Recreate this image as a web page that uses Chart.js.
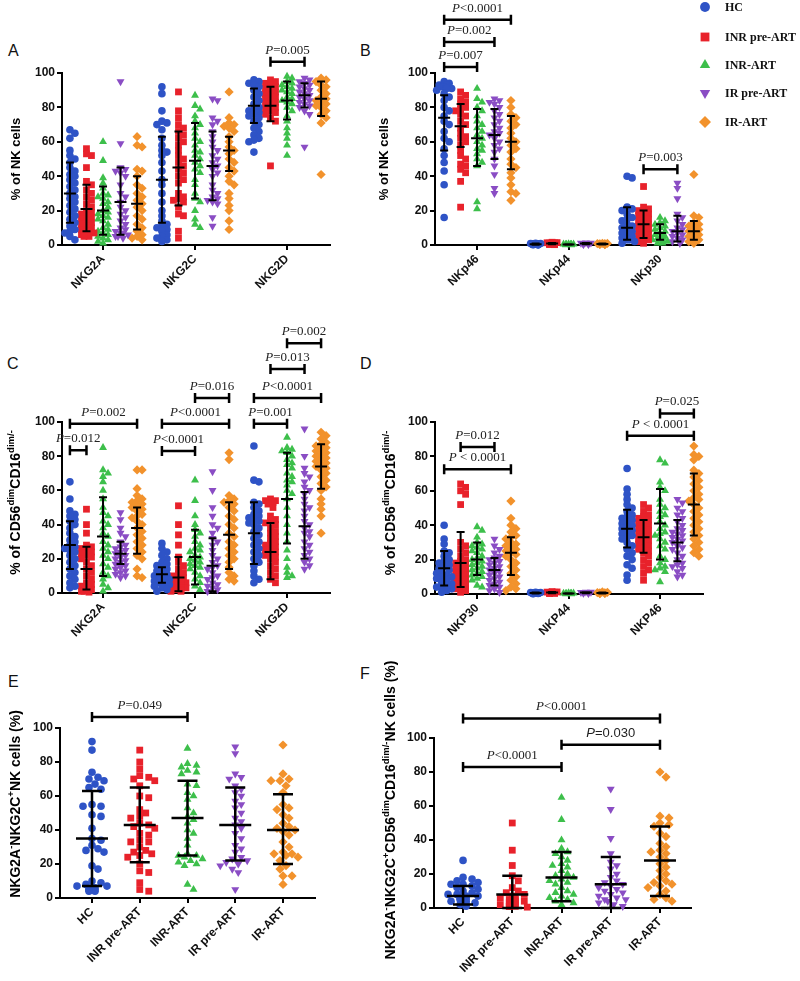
<!DOCTYPE html>
<html>
<head>
<meta charset="utf-8">
<script src="https://cdn.jsdelivr.net/npm/chart.js@4.4.0/dist/chart.umd.min.js"></script>
<style>
body { margin: 0; background: #fff; width: 800px; height: 981px; position: relative; overflow: hidden; font-family: "Liberation Sans", Arial, sans-serif; }
canvas { position: absolute; }
.lbl { position: absolute; font-size: 16px; color: #111; }
</style>
</head>
<body>
<div class="lbl" style="left:8px;top:42px">A</div>
<div class="lbl" style="left:360px;top:42px">B</div>
<div class="lbl" style="left:7px;top:355px">C</div>
<div class="lbl" style="left:360px;top:355px">D</div>
<div class="lbl" style="left:8px;top:673px">E</div>
<div class="lbl" style="left:360px;top:665px">F</div>

<canvas id="cA" width="340" height="300" style="left:0;top:0"></canvas>
<canvas id="cB" width="440" height="300" style="left:360px;top:0"></canvas>
<canvas id="cC" width="340" height="340" style="left:0;top:300px"></canvas>
<canvas id="cD" width="440" height="340" style="left:360px;top:300px"></canvas>
<canvas id="cE" width="360" height="341" style="left:0;top:640px"></canvas>
<canvas id="cF" width="440" height="341" style="left:360px;top:640px"></canvas>

<script>
// groups (legend order)
const groupNames = ['HC', 'INR pre-ART', 'INR-ART', 'IR pre-ART', 'IR-ART'];
const groupColors = ['#2e53c6', '#e8222b', '#3dbf4b', '#8a4dc4', '#f2922c'];
const groupStyles = ['circle', 'rect', 'triangle', 'triangle', 'rectRot'];
const groupRot = [0, 0, 0, 180, 0];
const groupRadius = [3.8, 4.8, 4.6, 4.6, 4.6];

// ---- Panel A : % of NK cells ----
const catsA = ['NKG2A', 'NKG2C', 'NKG2D'];
const A_NKG2A = [
  [67,65,62,55,52,50,48,45,43,41,40,38,36,34,32,30,28,27,25,23,21,19,17,15,13,11,9,8,7,5,3],
  [56,53,52,45,37,35,32,30,28,26,24,22,20,19,18,17,16,15,14,13,12,11,10,9,8,8,7,6,6,5,5],
  [60,49,39,36,33,30,29,28,27,25,24,22,20,19,18,17,16,15,14,12,10,9,8,7,6,5,4,3,2,1],
  [95,59,45,44,43,42,40,35,30,28,25,22,20,18,16,14,12,10,9,8,7,7,6,5,5,4],
  [63,58,57,44,43,40,35,33,30,28,26,24,22,20,17,15,12,10,8,6,5,4,3]
];
const A_NKG2C = [
  [92,88,78,72,71,70,67,62,58,55,54,52,48,43,38,35,30,25,20,17,14,12,11,10,9,8,6,5,4,3,2],
  [89,78,74,70,68,66,64,62,60,58,55,52,50,48,46,44,42,40,38,36,30,28,27,26,25,22,18,17,8,4],
  [87,81,79,75,72,70,68,65,62,60,58,55,54,52,50,48,46,44,42,38,35,30,27,25,20,15,12,10],
  [85,84,74,72,70,66,63,60,57,55,52,50,48,46,44,42,40,35,32,30,28,27,26,25,24,16,11],
  [89,74,71,70,69,68,66,63,60,57,55,53,50,48,45,43,40,37,35,30,27,23,20,14,9]
];
const A_NKG2D = [
  [96,95,94,93,92,90,88,86,84,82,80,79,78,77,76,75,74,72,70,68,66,64,62,61,60,54],
  [96,95,94,93,92,91,90,89,88,87,86,85,84,83,82,81,80,79,78,77,76,74,72,46],
  [98,97,95,94,93,92,91,90,89,88,86,85,84,83,82,80,78,75,72,68,65,62,58,52],
  [97,96,95,94,93,92,91,90,89,88,87,86,85,84,83,82,81,80,78,76,57],
  [97,96,95,93,92,90,88,86,85,84,83,82,81,80,78,76,74,71,41]
];
// [centre, low, high] per group
const barsA = [
  [[30,13,48],[21,8,35],[20,6,34],[25,6,45],[24,9,40]],
  [[38,13,63],[45,23,66],[49,27,71],[46,26,66],[55,43,63]],
  [[81,71,91],[81,72,92],[84,73,95],[87,80,94],[85,75,95]]
];
// [category, group1, group2, level, text]
const sigA = [[2,1,3,106.5,'=0.005']];

// ---- Panel B : % of NK cells ----
const catsB = ['NKp46', 'NKp44', 'NKp30'];
const B_NKp46 = [
  [95,94,93,93,92,92,91,91,90,88,86,84,80,78,75,72,70,66,62,60,56,52,48,43,35,16],
  [89,87,85,83,82,80,79,78,76,75,72,70,68,65,63,62,60,58,55,52,50,47,46,44,42,37,22],
  [91,85,83,80,78,75,72,70,68,66,64,62,60,58,56,55,53,50,48,46,25,21],
  [85,84,83,82,80,78,76,74,72,70,68,66,65,64,62,60,58,56,54,50,46,41,33,30],
  [84,80,76,74,72,70,68,65,62,60,58,56,54,50,47,45,42,39,35,31,30,26]
];
const B_NKp44 = [
  [0.2,0.3,0.4,0.5,0.5,0.6,0.7,0.8,0.9,1.0,0.3,0.4,0.6,0.2,0.1,0.5,0.7,0.4],
  [0.3,0.5,0.6,0.8,1.0,1.2,1.4,1.6,0.4,0.7,0.9,1.1,0.5,0.2,0.8,1.3],
  [0.1,0.2,0.3,0.4,0.5,0.3,0.2,0.6,0.4,0.1,0.3,0.5],
  [0.3,0.5,0.7,0.9,1.1,1.3,0.6,0.8,1.0,0.4,0.7,1.2,0.9],
  [0.2,0.4,0.6,0.8,1.0,0.5,0.3,0.7,0.9,0.6]
];
const B_NKp30 = [
  [40,39,22,21,20,18,16,15,14,12,11,10,9,8,7,6,5,4,3,3,2,1],
  [34,22,21,20,19,18,17,16,15,14,13,12,11,10,9,8,7,6,5,4,3,2,1],
  [16,14,13,12,11,10,9,8,7,6,5,5,4,4,3,3,2,2,1,1],
  [36,33,27,18,16,14,12,10,9,8,7,6,5,4,3,3,2,1],
  [41,17,16,13,12,11,10,9,8,7,6,5,4,3,2,1]
];
const barsB = [
  [[74,55,87],[69,57,82],[62,46,79],[64,50,79],[60,44,75]],
  [[0.5,0.2,0.8],[0.8,0.4,1.2],[0.3,0.1,0.5],[0.8,0.5,1.1],[0.6,0.3,0.9]],
  [[10,3,22],[12,4,20],[7,3,12],[8,2,17],[8,3,14]]
];
const sigB = [[0,0,2,103.5,'=0.007'],[0,0,3,118,'=0.002'],[0,0,4,131,'<0.0001'],[2,1,3,44,'=0.003']];

// ---- Panel C : % of CD56dim CD16dim/- ----
const catsC = ['NKG2A', 'NKG2C', 'NKG2D'];
const C_NKG2A = [
  [65,55,48,46,45,43,42,40,38,35,33,31,30,28,27,26,25,24,22,20,18,16,14,12,10,8,6,4,3],
  [49,40,35,28,27,26,25,24,23,22,21,20,18,16,14,12,10,8,6,5,4,3,2,1,1,0.5],
  [85,72,70,68,65,60,55,50,47,45,42,40,38,35,33,30,28,26,24,22,20,17,15,12,10,8,5,3,1],
  [47,43,38,35,33,30,28,27,26,25,24,23,22,21,20,19,18,17,16,15,14,13,12,11,10,9],
  [72,72,61,57,55,54,53,52,51,50,49,48,46,45,44,42,40,38,36,34,32,30,28,26,24,22,20,14,10,9]
];
const C_NKG2C = [
  [29,26,24,22,20,18,17,16,15,14,13,12,12,11,10,10,9,9,8,8,7,7,6,6,5,4,3,2,1],
  [51,40,34,28,21,18,16,14,12,11,10,9,8,8,7,7,6,6,5,5,4,4,3,3,2,2,1,1],
  [66,54,45,40,37,35,33,30,28,26,25,24,22,21,20,19,18,17,16,15,14,12,10,8,6,4,2],
  [71,60,50,45,40,38,35,32,30,28,25,22,20,18,16,15,14,12,10,9,8,6,5,4,3,2,1],
  [82,78,57,55,54,53,52,50,48,45,43,40,38,35,33,30,28,26,24,22,20,18,15,12,10,8,7]
];
const C_NKG2D = [
  [86,66,65,53,52,50,48,46,45,44,43,42,41,40,38,36,34,32,30,28,26,24,22,20,18,16,13,10,8,6],
  [55,54,54,53,52,50,45,43,42,41,40,38,36,35,33,32,30,29,28,27,26,25,24,23,22,21,20,18,16,14,12,10,8,6],
  [91,85,84,83,82,80,78,76,75,73,70,68,66,65,63,60,58,55,50,45,40,35,30,25,20,15,12,10,9],
  [96,80,73,70,68,65,62,60,58,55,52,50,48,45,42,40,38,36,35,33,30,28,26,24,22,20,18,16,14],
  [94,92,90,88,87,86,85,84,83,82,81,80,79,78,77,76,75,74,73,72,70,68,66,64,62,60,55,52,49,45,35]
];
const barsC = [
  [[28,14,42],[14,2,27],[33,10,56],[23,17,30],[38,23,50]],
  [[11,6,15],[9,1,21],[21,5,37],[16,1,32],[34,14,53]],
  [[35,17,53],[24,8,41],[55,29,82],[39,20,59],[74,61,87]]
];
const sigC = [
  [0,0,1,83.5,'=0.012'],[0,0,4,99,'=0.002'],
  [1,0,2,83,'<0.0001'],[1,0,4,99,'<0.0001'],[1,2,4,114,'=0.016'],
  [2,0,2,99,'=0.001'],[2,0,4,114,'<0.0001'],[2,1,3,131,'=0.013'],[2,2,4,146,'=0.002']
];

// ---- Panel D : % of CD56dim CD16dim/- ----
const catsD = ['NKP30', 'NKP44', 'NKP46'];
const D_NKP30 = [
  [40,32,29,25,24,22,20,19,18,17,16,15,15,14,13,12,11,10,10,9,8,7,6,5,4,4,3,2,1],
  [64,62,60,58,52,30,28,26,24,22,20,19,18,17,16,15,14,13,12,11,10,9,8,7,6,5,4,3,2,1],
  [39,37,33,30,29,28,27,26,25,24,22,21,20,19,18,17,16,15,14,13,12,11,10,9,8,5,4],
  [32,28,26,24,22,21,20,19,18,17,16,15,14,13,12,11,10,9,8,7,6,5,4,3,2,1],
  [54,44,40,38,36,34,33,32,30,29,28,27,26,25,24,23,22,20,18,16,14,12,10,8,6,4,3,2]
];
const D_NKP44 = [
  [0.3,0.4,0.5,0.6,0.7,0.8,0.9,1.0,0.5,0.4,0.6,0.3,0.2,0.7,0.5],
  [0.4,0.6,0.8,1.0,1.2,1.4,0.5,0.7,0.9,1.1,0.3,0.6,0.8],
  [0.1,0.2,0.3,0.4,0.5,0.3,0.2,0.4,0.6,0.1],
  [0.4,0.6,0.8,1.0,1.2,0.5,0.7,0.9,1.1,0.6],
  [0.2,0.4,0.6,0.8,1.0,1.2,0.5,0.7,0.3]
];
const D_NKP46 = [
  [73,61,58,55,52,50,48,46,45,44,43,42,41,40,39,38,37,36,35,34,33,32,30,28,26,24,22,20,17,15,11,8],
  [52,50,48,46,45,44,43,42,41,40,39,38,37,36,35,34,33,32,31,30,29,28,27,26,25,24,22,20,18,16,14,12,8],
  [78,76,65,62,60,55,52,50,48,46,45,42,40,38,36,35,34,32,30,28,26,22,20,18,16,15,14,13,7],
  [55,53,50,48,46,44,42,40,38,37,36,35,34,33,32,31,30,28,27,26,24,22,20,18,17,16,15,13,11,10],
  [86,81,80,78,72,70,68,66,64,62,60,58,56,55,54,52,50,48,46,44,42,40,38,36,34,32,30,28,26,24,22]
];
const barsD = [
  [[15,5,25],[18,4,36],[20,11,30],[14,5,21],[24,11,33]],
  [[0.6,0.3,0.9],[0.8,0.5,1.1],[0.3,0.1,0.5],[0.8,0.5,1.0],[0.6,0.3,0.9]],
  [[38,27,49],[33,24,43],[41,20,61],[30,19,43],[52,34,70]]
];
const sigD = [[0,0,4,72.5,' < 0.0001'],[0,1,3,85.5,'=0.012'],[2,0,4,92,' < 0.0001'],[2,2,4,105,'=0.025']];

// ---- Panel E : NKG2A- NKG2C+ NK cells (%) ----
const E_vals = [
  [92,87,74,71,70,69,67,65,64,55,54,54,49,48,41,35,34,31,29,28,27,19,17,10,9,8,7,7,6,6,5,5,5,4,4],
  [87,80,76,72,71,70,69,66,60,59,52,50,48,47,44,43,42,41,38,37,34,33,33,30,28,27,26,25,24,20,16,15,9,5,4],
  [88,79,78,77,75,74,73,67,66,62,60,58,53,50,48,46,44,40,38,35,31,26,25,25,24,23,22,21,20,19,8,5],
  [89,85,73,71,70,66,64,62,60,57,55,53,50,47,45,43,41,38,35,31,29,27,24,23,22,21,20,19,17,15,5],
  [90,73,70,69,69,66,62,55,53,52,49,47,44,42,41,40,39,37,33,30,27,26,26,25,24,22,19,17,13,13,8]
];
const barsE = [[35,7,63],[43,21,65],[47,25,69],[43,22,65],[40,20,61]];
const sigE = [[0,0,2,106.5,'=0.049']];

// ---- Panel F : NKG2A- NKG2C+ CD56dim CD16dim/- NK cells (%) ----
const F_vals = [
  [28,18,17,16,15,14,14,13,12,11,10,9,8,8,7,7,6,6,5,5,4,4,3,3,2,1],
  [50,34,25,19,16,12,10,9,8,7,6,6,5,5,4,4,3,3,2,2,1,1,1,0.5],
  [65,52,40,35,33,32,30,28,26,25,24,22,20,19,18,17,16,15,14,12,10,9,8,7,6,5,4,3,2],
  [70,58,41,32,27,25,23,20,18,16,15,14,13,12,11,10,9,8,7,6,5,5,4,3,2,1],
  [80,77,54,53,50,49,48,44,42,38,36,34,33,32,30,28,26,24,22,20,18,16,15,14,13,12,10,8,6,5,4]
];
const barsF = [[7,2,13],[8,0,19],[18,4,33],[14,0,30],[28,7,48]];
const sigF = [[0,0,2,83,'<0.0001'],[0,2,4,96,'=0.030','sans'],[0,0,4,111.5,'<0.0001']];

const yTicks = [0, 20, 40, 60, 80, 100];
const groupOffsets = [-0.36, -0.18, 0, 0.19, 0.37];

const SANS = '"Liberation Sans", Arial, sans-serif';
const SERIF = '"Liberation Serif", "Times New Roman", serif';
Chart.defaults.font.family = SANS;

// simple beeswarm: spread overlapping points sideways (pixels)
function swarm(vals, pxY, step, minD, maxK) {
  const order = vals.map((v, i) => i).sort((a, b) => vals[b] - vals[a]);
  const placed = [];
  const res = new Array(vals.length).fill(0);
  order.forEach((i, n) => {
    const yp = vals[i] * pxY;
    let chosen = null;
    for (let k = 0; k <= maxK && chosen === null; k++) {
      const cands = k === 0 ? [0] : [k * step, -k * step];
      for (const dx of cands) {
        if (placed.every(p => Math.hypot(p.dx - dx, p.y - yp) >= minD)) { chosen = dx; break; }
      }
    }
    if (chosen === null) chosen = (n % 2 ? 1 : -1) * step;
    placed.push({ dx: chosen, y: yp });
    res[i] = chosen;
  });
  return res;
}

// rich rotated text (for axis titles with superscripts)
function drawRich(ctx, segs, size, cx, cy) {
  ctx.save();
  ctx.translate(cx, cy);
  ctx.rotate(-Math.PI / 2);
  ctx.fillStyle = '#000';
  ctx.textBaseline = 'alphabetic';
  let total = 0;
  segs.forEach(s => {
    ctx.font = 'bold ' + (s[1] ? size * 0.68 : size) + 'px ' + SANS;
    total += ctx.measureText(s[0]).width;
  });
  let x = -total / 2;
  segs.forEach(s => {
    ctx.font = 'bold ' + (s[1] ? size * 0.68 : size) + 'px ' + SANS;
    ctx.fillText(s[0], x, size * 0.36 - (s[1] ? size * 0.42 : 0));
    x += ctx.measureText(s[0]).width;
  });
  ctx.restore();
}

function makePanel(id, o) {
  const xPos = (ci, gi) => o.single ? gi + 1 : ci + 1 + groupOffsets[gi];
  const entries = [];
  if (o.single) {
    o.data.forEach((vals, gi) => entries.push({ gi, x: xPos(0, gi), vals, bar: o.bars[gi] }));
  } else {
    o.data.forEach((cat, ci) => cat.forEach((vals, gi) => entries.push({ gi, x: xPos(ci, gi), vals, bar: o.bars[ci][gi] })));
  }
  const datasets = groupNames.map((g, gi) => {
    const pts = [];
    entries.filter(e => e.gi === gi).forEach(e => {
      const dx = swarm(e.vals, o.pxY, o.step, o.minD, o.maxK);
      e.vals.forEach((v, i) => pts.push({ x: e.x + dx[i] / o.pxX, y: v }));
    });
    return {
      label: g, data: pts, clip: false,
      pointStyle: groupStyles[gi], rotation: groupRot[gi],
      pointRadius: groupRadius[gi], pointHoverRadius: groupRadius[gi],
      backgroundColor: groupColors[gi], borderColor: groupColors[gi], borderWidth: 0
    };
  });

  const extras = {
    id: 'extras',
    afterDatasetsDraw(chart) {
      const { ctx, scales: { x, y }, chartArea } = chart;
      ctx.save();
      ctx.strokeStyle = '#000';
      ctx.lineCap = 'butt';
      // mean and error bars
      ctx.lineWidth = o.lw;
      entries.forEach(e => {
        const px = x.getPixelForValue(e.x);
        const [c, lo, hi] = e.bar;
        const pc = y.getPixelForValue(c), pl = y.getPixelForValue(lo), ph = y.getPixelForValue(hi);
        ctx.beginPath();
        ctx.moveTo(px, pl); ctx.lineTo(px, ph);
        ctx.moveTo(px - o.capW / 2, pl); ctx.lineTo(px + o.capW / 2, pl);
        ctx.moveTo(px - o.capW / 2, ph); ctx.lineTo(px + o.capW / 2, ph);
        ctx.moveTo(px - o.barW / 2, pc); ctx.lineTo(px + o.barW / 2, pc);
        ctx.stroke();
      });
      // significance brackets
      ctx.lineWidth = 2.5;
      o.sig.forEach(s => {
        const x1 = x.getPixelForValue(xPos(s[0], s[1]));
        const x2 = x.getPixelForValue(xPos(s[0], s[2]));
        const yy = y.getPixelForValue(s[3]);
        ctx.beginPath();
        ctx.moveTo(x1, yy); ctx.lineTo(x2, yy);
        ctx.moveTo(x1, yy - 5); ctx.lineTo(x1, yy + 5);
        ctx.moveTo(x2, yy - 5); ctx.lineTo(x2, yy + 5);
        ctx.stroke();
        const fam = s[5] === 'sans' ? SANS : SERIF;
        const fs = 13;
        ctx.font = 'italic ' + fs + 'px ' + fam;
        const wP = ctx.measureText('P').width;
        ctx.font = fs + 'px ' + fam;
        const wR = ctx.measureText(s[4]).width;
        const tx = (x1 + x2) / 2 - (wP + wR) / 2;
        ctx.fillStyle = '#222';
        ctx.textBaseline = 'alphabetic';
        ctx.textAlign = 'left';
        ctx.font = 'italic ' + fs + 'px ' + fam;
        ctx.fillText('P', tx, yy - 8);
        ctx.font = fs + 'px ' + fam;
        ctx.fillText(s[4], tx + wP, yy - 8);
      });
      // y axis title
      drawRich(ctx, o.title, o.titleSize, o.titleX, (chartArea.top + chartArea.bottom) / 2 + o.titleDy);
      // legend
      if (o.legend) {
        groupNames.forEach((g, gi) => {
          const ly = o.legend.y[gi];
          ctx.fillStyle = groupColors[gi];
          Chart.helpers.drawPoint(ctx, { pointStyle: groupStyles[gi], rotation: groupRot[gi], radius: groupRadius[gi] * 1.3, borderWidth: 0 }, o.legend.x, ly);
          ctx.fillStyle = '#111';
          ctx.font = 'bold 12px ' + SERIF;
          ctx.textBaseline = 'middle';
          ctx.textAlign = 'left';
          ctx.fillText(g, o.legend.x + 20, ly + 1);
        });
      }
      ctx.restore();
    }
  };

  new Chart(document.getElementById(id), {
    type: 'scatter',
    data: { datasets },
    options: {
      responsive: false,
      animation: false,
      events: [],
      layout: { padding: { top: o.top, right: o.padR, left: 0, bottom: 0 } },
      plugins: { legend: { display: false }, tooltip: { enabled: false } },
      scales: {
        x: {
          type: 'linear', min: o.xMin, max: o.xMax,
          afterBuildTicks: ax => { ax.ticks = o.cats.map((c, i) => ({ value: i + 1 })); },
          afterFit: s => { s.height = o.xH; },
          ticks: {
            autoSkip: false, maxRotation: 45, minRotation: 45, padding: 2, color: '#111',
            font: { size: 12, weight: 'bold' },
            callback: v => o.cats[Math.round(v) - 1]
          },
          grid: { drawOnChartArea: false, drawTicks: true, tickLength: 5, color: '#000', lineWidth: 2 },
          border: { display: true, color: '#000', width: 2 }
        },
        y: {
          min: 0, max: 100,
          afterBuildTicks: ax => { ax.ticks = yTicks.map(v => ({ value: v })); },
          afterFit: s => { s.width = o.yW; },
          ticks: { padding: 2, color: '#111', font: { size: 12, weight: 'bold' } },
          grid: { drawOnChartArea: false, drawTicks: true, tickLength: 5, color: '#000', lineWidth: 2 },
          border: { display: true, color: '#000', width: 2 }
        }
      }
    },
    plugins: [extras]
  });
}

const small = { pxY: 1.72, step: 2.5, minD: 5, maxK: 3, lw: 2, barW: 12, capW: 8 };

makePanel('cA', Object.assign({}, small, {
  cats: catsA, data: [A_NKG2A, A_NKG2C, A_NKG2D], bars: barsA, sig: sigA,
  top: 73, padR: 10, yW: 62, xH: 55, xMin: 0.554, xMax: 3.467, pxX: 92,
  title: [['% of NK cells']], titleSize: 13, titleX: 15, titleDy: 0
}));
makePanel('cB', Object.assign({}, small, {
  cats: catsB, data: [B_NKp46, B_NKp44, B_NKp30], bars: barsB, sig: sigB,
  top: 73, padR: 97, yW: 75, xH: 55, xMin: 0.54, xMax: 3.47, pxX: 91.5,
  title: [['% of NK cells']], titleSize: 13, titleX: 23, titleDy: 0,
  legend: { x: 345, y: [7, 37, 65, 93, 122] }
}));
makePanel('cC', Object.assign({}, small, {
  cats: catsC, data: [C_NKG2A, C_NKG2C, C_NKG2D], bars: barsC, sig: sigC,
  top: 122, padR: 10, yW: 62, xH: 47, xMin: 0.554, xMax: 3.467, pxX: 92, pxY: 1.71,
  title: [['% of CD56'], ['dim', 1], ['CD16'], ['dim/-', 1]], titleSize: 14, titleX: 15, titleDy: -5
}));
makePanel('cD', Object.assign({}, small, {
  cats: catsD, data: [D_NKP30, D_NKP44, D_NKP46], bars: barsD, sig: sigD,
  top: 122, padR: 97, yW: 75, xH: 46, xMin: 0.54, xMax: 3.47, pxX: 91.5,
  title: [['% of CD56'], ['dim', 1], ['CD16'], ['dim/-', 1]], titleSize: 14, titleX: 30, titleDy: -5
}));
makePanel('cE', {
  single: true, cats: groupNames, data: E_vals, bars: barsE, sig: sigE,
  top: 88, padR: 45, yW: 60, xH: 83, xMin: 0.33, xMax: 5.67, pxX: 47.75, pxY: 1.7,
  step: 3, minD: 6.5, maxK: 5, lw: 2.5, barW: 32, capW: 20,
  title: [['NKG2A'], ['-', 1], ['NKG2C'], ['+', 1], ['NK cells (%)']], titleSize: 14, titleX: 15, titleDy: -9
});
makePanel('cF', {
  single: true, cats: groupNames, data: F_vals, bars: barsF, sig: sigF,
  top: 98, padR: 109, yW: 74, xH: 73, xMin: 0.41, xMax: 5.63, pxX: 49.25, pxY: 1.7,
  step: 3, minD: 6.5, maxK: 5, lw: 2.5, barW: 32, capW: 20,
  title: [['NKG2A'], ['-', 1], ['NKG2C'], ['+', 1], ['CD56'], ['dim', 1], ['CD16'], ['dim/-', 1], ['NK cells (%)']],
  titleSize: 14, titleX: 30, titleDy: -13
});
</script>
</body>
</html>
